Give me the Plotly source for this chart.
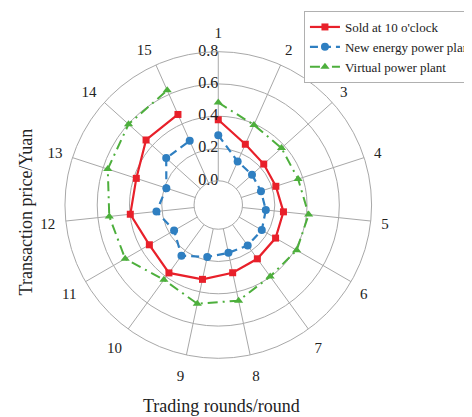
import plotly.graph_objects as go

rounds = [str(i) for i in range(1, 16)]
sold_10 = [0.378, 0.262, 0.229, 0.225, 0.256, 0.260, 0.262, 0.279, 0.321, 0.370, 0.343, 0.398, 0.384, 0.452, 0.464]
new_energy = [0.282, 0.145, 0.131, 0.128, 0.146, 0.161, 0.160, 0.153, 0.179, 0.238, 0.166, 0.235, 0.188, 0.284, 0.285]
virtual = [0.485, 0.393, 0.377, 0.370, 0.413, 0.411, 0.397, 0.456, 0.475, 0.423, 0.516, 0.529, 0.570, 0.598, 0.628]
radial_ticks = [0.0, 0.2, 0.4, 0.6, 0.8]
radial_tick_labels = ["0.0", "0.2", "0.4", "0.6", "0.8"]

FONT = "Liberation Serif"
OFF = 7  # page offset compensation (px)
W, H = 472, 417

fig = go.Figure()
fig.add_trace(go.Scatterpolar(r=sold_10, theta=rounds, mode="lines+markers", name="Sold at 10 o'clock",
                              line=dict(color="#e8202a", width=2.2), marker=dict(symbol="square", size=7)))
fig.add_trace(go.Scatterpolar(r=new_energy, theta=rounds, mode="lines+markers", name="New energy power plant",
                              line=dict(color="#2f7fc1", width=2.2, dash="8px,5px"), marker=dict(symbol="circle", size=8)))
fig.add_trace(go.Scatterpolar(r=virtual, theta=rounds, mode="lines+markers", name="Virtual power plant",
                              line=dict(color="#4daf3c", width=2, dash="10px,5px,2px,5px"), marker=dict(symbol="triangle-up", size=8)))
# radial tick labels placed along the first spoke
fig.add_trace(go.Scatterpolar(r=radial_ticks, theta=[rounds[0]] * len(radial_ticks), mode="text",
                              text=radial_tick_labels, textposition="middle left", showlegend=False,
                              hoverinfo="skip", cliponaxis=False,
                              textfont=dict(size=16, family=FONT, color="#222")))

fig.update_layout(
    width=W, height=H, margin=dict(l=0, r=0, t=0, b=0),
    paper_bgcolor="white", plot_bgcolor="white",
    font=dict(family=FONT, size=15, color="#222"),
    polar=dict(
        domain=dict(x=[58.7/W, 374.7/W], y=[1-(362-OFF)/H, 1-(46-OFF)/H]),
        hole=0.158,
        bgcolor="white",
        radialaxis=dict(range=[-0.0001, 0.8], tickvals=radial_ticks, showticklabels=False, angle=90,
                        showline=False, gridcolor="#a8a8a8", gridwidth=1, ticks=""),
        angularaxis=dict(type="category", categoryarray=rounds, direction="clockwise", rotation=90,
                         linecolor="#a8a8a8", gridcolor="#a8a8a8", ticks="outside", ticklen=7,
                         tickcolor="rgba(0,0,0,0)", tickfont=dict(size=15, family=FONT)),
    ),
    legend=dict(x=305/W, y=1-(10-OFF)/H, xanchor="left", yanchor="top", bordercolor="#b0b0b0", borderwidth=1,
                bgcolor="white", font=dict(size=13, family=FONT, color="#222"), tracegroupgap=0, itemwidth=30),
    annotations=[
        dict(text="Trading rounds/round", x=220/W, y=1-(405-OFF)/H, xref="paper", yref="paper", showarrow=False,
             xanchor="center", yanchor="middle", font=dict(size=18, family=FONT)),
        dict(text="Transaction price/Yuan", x=19/W, y=1-(211-OFF)/H, xref="paper", yref="paper", showarrow=False,
             xanchor="center", yanchor="middle", textangle=-90, font=dict(size=18, family=FONT)),
    ],
)
fig.write_html("out.html")
